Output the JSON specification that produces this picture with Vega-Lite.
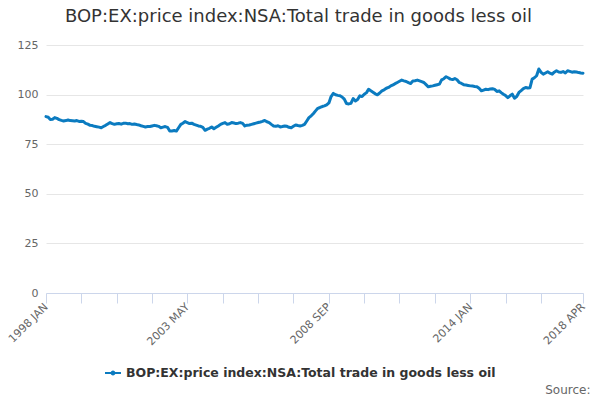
{
  "$schema": "https://vega.github.io/schema/vega-lite/v6.json",
  "width": 537,
  "height": 248,
  "autosize": "none",
  "padding": {"left": 46, "top": 45, "right": 17, "bottom": 107},
  "title": {
    "text": "BOP:EX:price index:NSA:Total trade in goods less oil",
    "fontSize": 18,
    "fontWeight": "normal",
    "color": "#333333",
    "anchor": "middle",
    "dx": -16,
    "offset": 13
  },
  "config": {
    "font": "DejaVu Sans",
    "view": {"stroke": null}
  },
  "data": {
    "values": [
      {"d": "1998-01-01", "v": 88.9}, {"d": "1998-02-01", "v": 88.6}, {"d": "1998-03-01", "v": 87.5}, {"d": "1998-04-01", "v": 87.6},
      {"d": "1998-05-01", "v": 88.4}, {"d": "1998-06-01", "v": 88.0}, {"d": "1998-07-01", "v": 87.4}, {"d": "1998-08-01", "v": 87.0},
      {"d": "1998-09-01", "v": 86.7}, {"d": "1998-10-01", "v": 86.9}, {"d": "1998-11-01", "v": 87.2}, {"d": "1998-12-01", "v": 86.9},
      {"d": "1999-01-01", "v": 86.8}, {"d": "1999-02-01", "v": 86.7}, {"d": "1999-03-01", "v": 86.9}, {"d": "1999-04-01", "v": 86.5},
      {"d": "1999-05-01", "v": 86.6}, {"d": "1999-06-01", "v": 86.4}, {"d": "1999-07-01", "v": 85.5}, {"d": "1999-08-01", "v": 85.1},
      {"d": "1999-09-01", "v": 84.5}, {"d": "1999-10-01", "v": 84.4}, {"d": "1999-11-01", "v": 84.0}, {"d": "1999-12-01", "v": 83.8},
      {"d": "2000-01-01", "v": 83.6}, {"d": "2000-02-01", "v": 83.3}, {"d": "2000-03-01", "v": 83.9}, {"d": "2000-04-01", "v": 84.5},
      {"d": "2000-05-01", "v": 85.2}, {"d": "2000-06-01", "v": 85.9}, {"d": "2000-07-01", "v": 85.4}, {"d": "2000-08-01", "v": 85.0},
      {"d": "2000-09-01", "v": 85.3}, {"d": "2000-10-01", "v": 85.4}, {"d": "2000-11-01", "v": 85.1}, {"d": "2000-12-01", "v": 85.5},
      {"d": "2001-01-01", "v": 85.6}, {"d": "2001-02-01", "v": 85.3}, {"d": "2001-03-01", "v": 85.4}, {"d": "2001-04-01", "v": 85.0},
      {"d": "2001-05-01", "v": 85.2}, {"d": "2001-06-01", "v": 84.9}, {"d": "2001-07-01", "v": 84.7}, {"d": "2001-08-01", "v": 84.3},
      {"d": "2001-09-01", "v": 84.0}, {"d": "2001-10-01", "v": 83.7}, {"d": "2001-11-01", "v": 83.9}, {"d": "2001-12-01", "v": 83.9},
      {"d": "2002-01-01", "v": 84.2}, {"d": "2002-02-01", "v": 84.5}, {"d": "2002-03-01", "v": 84.3}, {"d": "2002-04-01", "v": 84.0},
      {"d": "2002-05-01", "v": 83.3}, {"d": "2002-06-01", "v": 83.6}, {"d": "2002-07-01", "v": 83.9}, {"d": "2002-08-01", "v": 83.5},
      {"d": "2002-09-01", "v": 81.6}, {"d": "2002-10-01", "v": 81.7}, {"d": "2002-11-01", "v": 81.9}, {"d": "2002-12-01", "v": 81.6},
      {"d": "2003-01-01", "v": 83.3}, {"d": "2003-02-01", "v": 85.0}, {"d": "2003-03-01", "v": 85.6}, {"d": "2003-04-01", "v": 86.4},
      {"d": "2003-05-01", "v": 85.9}, {"d": "2003-06-01", "v": 85.4}, {"d": "2003-07-01", "v": 85.6}, {"d": "2003-08-01", "v": 85.0},
      {"d": "2003-09-01", "v": 84.6}, {"d": "2003-10-01", "v": 84.2}, {"d": "2003-11-01", "v": 84.0}, {"d": "2003-12-01", "v": 83.5},
      {"d": "2004-01-01", "v": 82.0}, {"d": "2004-02-01", "v": 82.6}, {"d": "2004-03-01", "v": 83.0}, {"d": "2004-04-01", "v": 83.7},
      {"d": "2004-05-01", "v": 82.8}, {"d": "2004-06-01", "v": 83.5}, {"d": "2004-07-01", "v": 84.2}, {"d": "2004-08-01", "v": 85.0},
      {"d": "2004-09-01", "v": 85.5}, {"d": "2004-10-01", "v": 85.9}, {"d": "2004-11-01", "v": 85.0}, {"d": "2004-12-01", "v": 85.3},
      {"d": "2005-01-01", "v": 85.9}, {"d": "2005-02-01", "v": 85.7}, {"d": "2005-03-01", "v": 85.4}, {"d": "2005-04-01", "v": 85.6},
      {"d": "2005-05-01", "v": 85.9}, {"d": "2005-06-01", "v": 85.5}, {"d": "2005-07-01", "v": 84.2}, {"d": "2005-08-01", "v": 84.6},
      {"d": "2005-09-01", "v": 84.7}, {"d": "2005-10-01", "v": 85.0}, {"d": "2005-11-01", "v": 85.3}, {"d": "2005-12-01", "v": 85.6},
      {"d": "2006-01-01", "v": 85.9}, {"d": "2006-02-01", "v": 86.2}, {"d": "2006-03-01", "v": 86.5}, {"d": "2006-04-01", "v": 87.0},
      {"d": "2006-05-01", "v": 86.3}, {"d": "2006-06-01", "v": 85.9}, {"d": "2006-07-01", "v": 85.0}, {"d": "2006-08-01", "v": 84.2},
      {"d": "2006-09-01", "v": 84.0}, {"d": "2006-10-01", "v": 84.3}, {"d": "2006-11-01", "v": 83.7}, {"d": "2006-12-01", "v": 83.9},
      {"d": "2007-01-01", "v": 84.2}, {"d": "2007-02-01", "v": 84.0}, {"d": "2007-03-01", "v": 83.5}, {"d": "2007-04-01", "v": 83.3},
      {"d": "2007-05-01", "v": 84.0}, {"d": "2007-06-01", "v": 84.7}, {"d": "2007-07-01", "v": 84.4}, {"d": "2007-08-01", "v": 84.2},
      {"d": "2007-09-01", "v": 84.5}, {"d": "2007-10-01", "v": 85.0}, {"d": "2007-11-01", "v": 86.7}, {"d": "2007-12-01", "v": 88.4},
      {"d": "2008-01-01", "v": 89.3}, {"d": "2008-02-01", "v": 90.5}, {"d": "2008-03-01", "v": 91.8}, {"d": "2008-04-01", "v": 93.1},
      {"d": "2008-05-01", "v": 93.5}, {"d": "2008-06-01", "v": 94.0}, {"d": "2008-07-01", "v": 94.3}, {"d": "2008-08-01", "v": 94.8},
      {"d": "2008-09-01", "v": 95.8}, {"d": "2008-10-01", "v": 99.0}, {"d": "2008-11-01", "v": 100.6}, {"d": "2008-12-01", "v": 99.9},
      {"d": "2009-01-01", "v": 99.6}, {"d": "2009-02-01", "v": 99.4}, {"d": "2009-03-01", "v": 98.8}, {"d": "2009-04-01", "v": 97.7},
      {"d": "2009-05-01", "v": 95.5}, {"d": "2009-06-01", "v": 95.3}, {"d": "2009-07-01", "v": 95.6}, {"d": "2009-08-01", "v": 98.0},
      {"d": "2009-09-01", "v": 96.8}, {"d": "2009-10-01", "v": 97.5}, {"d": "2009-11-01", "v": 99.4}, {"d": "2009-12-01", "v": 99.0},
      {"d": "2010-01-01", "v": 100.2}, {"d": "2010-02-01", "v": 101.0}, {"d": "2010-03-01", "v": 102.7}, {"d": "2010-04-01", "v": 101.9},
      {"d": "2010-05-01", "v": 101.2}, {"d": "2010-06-01", "v": 100.4}, {"d": "2010-07-01", "v": 99.9}, {"d": "2010-08-01", "v": 100.8},
      {"d": "2010-09-01", "v": 101.9}, {"d": "2010-10-01", "v": 102.4}, {"d": "2010-11-01", "v": 103.2}, {"d": "2010-12-01", "v": 103.6},
      {"d": "2011-01-01", "v": 104.4}, {"d": "2011-02-01", "v": 104.9}, {"d": "2011-03-01", "v": 105.5}, {"d": "2011-04-01", "v": 106.1},
      {"d": "2011-05-01", "v": 106.7}, {"d": "2011-06-01", "v": 107.3}, {"d": "2011-07-01", "v": 106.9}, {"d": "2011-08-01", "v": 106.6},
      {"d": "2011-09-01", "v": 106.0}, {"d": "2011-10-01", "v": 105.6}, {"d": "2011-11-01", "v": 106.9}, {"d": "2011-12-01", "v": 107.0},
      {"d": "2012-01-01", "v": 107.3}, {"d": "2012-02-01", "v": 106.9}, {"d": "2012-03-01", "v": 106.5}, {"d": "2012-04-01", "v": 106.1},
      {"d": "2012-05-01", "v": 105.0}, {"d": "2012-06-01", "v": 103.9}, {"d": "2012-07-01", "v": 104.2}, {"d": "2012-08-01", "v": 104.4},
      {"d": "2012-09-01", "v": 104.7}, {"d": "2012-10-01", "v": 105.0}, {"d": "2012-11-01", "v": 105.3}, {"d": "2012-12-01", "v": 107.4},
      {"d": "2013-01-01", "v": 108.0}, {"d": "2013-02-01", "v": 109.0}, {"d": "2013-03-01", "v": 108.5}, {"d": "2013-04-01", "v": 107.8},
      {"d": "2013-05-01", "v": 107.6}, {"d": "2013-06-01", "v": 108.1}, {"d": "2013-07-01", "v": 107.5}, {"d": "2013-08-01", "v": 106.1},
      {"d": "2013-09-01", "v": 105.6}, {"d": "2013-10-01", "v": 105.0}, {"d": "2013-11-01", "v": 104.8}, {"d": "2013-12-01", "v": 104.6},
      {"d": "2014-01-01", "v": 104.4}, {"d": "2014-02-01", "v": 104.3}, {"d": "2014-03-01", "v": 104.1}, {"d": "2014-04-01", "v": 104.0},
      {"d": "2014-05-01", "v": 103.2}, {"d": "2014-06-01", "v": 101.9}, {"d": "2014-07-01", "v": 102.3}, {"d": "2014-08-01", "v": 102.7},
      {"d": "2014-09-01", "v": 102.5}, {"d": "2014-10-01", "v": 102.8}, {"d": "2014-11-01", "v": 103.0}, {"d": "2014-12-01", "v": 102.6},
      {"d": "2015-01-01", "v": 101.6}, {"d": "2015-02-01", "v": 101.9}, {"d": "2015-03-01", "v": 101.0}, {"d": "2015-04-01", "v": 100.2},
      {"d": "2015-05-01", "v": 99.5}, {"d": "2015-06-01", "v": 98.5}, {"d": "2015-07-01", "v": 99.4}, {"d": "2015-08-01", "v": 100.2},
      {"d": "2015-09-01", "v": 98.2}, {"d": "2015-10-01", "v": 99.0}, {"d": "2015-11-01", "v": 101.1}, {"d": "2015-12-01", "v": 102.0},
      {"d": "2016-01-01", "v": 103.0}, {"d": "2016-02-01", "v": 103.6}, {"d": "2016-03-01", "v": 103.3}, {"d": "2016-04-01", "v": 103.5},
      {"d": "2016-05-01", "v": 107.8}, {"d": "2016-06-01", "v": 108.5}, {"d": "2016-07-01", "v": 109.5}, {"d": "2016-08-01", "v": 112.9},
      {"d": "2016-09-01", "v": 111.2}, {"d": "2016-10-01", "v": 110.3}, {"d": "2016-11-01", "v": 110.9}, {"d": "2016-12-01", "v": 111.5},
      {"d": "2017-01-01", "v": 110.8}, {"d": "2017-02-01", "v": 110.3}, {"d": "2017-03-01", "v": 111.3}, {"d": "2017-04-01", "v": 112.0},
      {"d": "2017-05-01", "v": 111.4}, {"d": "2017-06-01", "v": 111.2}, {"d": "2017-07-01", "v": 111.6}, {"d": "2017-08-01", "v": 110.9},
      {"d": "2017-09-01", "v": 112.0}, {"d": "2017-10-01", "v": 111.7}, {"d": "2017-11-01", "v": 111.3}, {"d": "2017-12-01", "v": 111.5},
      {"d": "2018-01-01", "v": 111.4}, {"d": "2018-02-01", "v": 111.1}, {"d": "2018-03-01", "v": 110.9}, {"d": "2018-04-01", "v": 110.8}
    ]
  },
  "mark": {"type": "line", "strokeWidth": 3, "strokeJoin": "round", "strokeCap": "round"},
  "encoding": {
    "x": {
      "field": "d",
      "type": "temporal",
      "scale": {
        "type": "utc",
        "nice": false,
        "domain": [
          {"year": 1998, "month": 1, "date": 1, "utc": true},
          {"year": 2018, "month": 4, "date": 1, "utc": true}
        ]
      },
      "axis": {
        "title": "Source:",
        "titleAnchor": "end",
        "titleAlign": "right",
        "titleBaseline": "alphabetic",
        "titleX": 544,
        "titleY": 100,
        "titleFontSize": 12,
        "titleFontWeight": "normal",
        "titleColor": "#666666",
        "values": [
          {"year": 1998, "month": 1, "date": 1, "utc": true},
          {"year": 1999, "month": 5, "date": 1, "utc": true},
          {"year": 2000, "month": 9, "date": 1, "utc": true},
          {"year": 2002, "month": 1, "date": 1, "utc": true},
          {"year": 2003, "month": 5, "date": 1, "utc": true},
          {"year": 2004, "month": 9, "date": 1, "utc": true},
          {"year": 2006, "month": 1, "date": 1, "utc": true},
          {"year": 2007, "month": 5, "date": 1, "utc": true},
          {"year": 2008, "month": 9, "date": 1, "utc": true},
          {"year": 2010, "month": 1, "date": 1, "utc": true},
          {"year": 2011, "month": 5, "date": 1, "utc": true},
          {"year": 2012, "month": 9, "date": 1, "utc": true},
          {"year": 2014, "month": 1, "date": 1, "utc": true},
          {"year": 2015, "month": 5, "date": 1, "utc": true},
          {"year": 2016, "month": 9, "date": 1, "utc": true},
          {"year": 2018, "month": 4, "date": 1, "utc": true}
        ],
        "labelExpr": "(utcFormat(datum.value, '%Y-%m') == '1998-01' || utcFormat(datum.value, '%Y-%m') == '2003-05' || utcFormat(datum.value, '%Y-%m') == '2008-09' || utcFormat(datum.value, '%Y-%m') == '2014-01' || utcFormat(datum.value, '%Y-%m') == '2018-04') ? upper(utcFormat(datum.value, '%Y %b')) : ''",
        "labelAngle": -45,
        "labelAlign": "right",
        "labelBaseline": "middle",
        "labelFontSize": 11,
        "labelColor": "#666666",
        "labelOverlap": false,
        "labelFlush": false,
        "labelBound": false,
        "labelPadding": 2,
        "domainColor": "#ccd6eb",
        "tickColor": "#ccd6eb",
        "tickSize": 10,
        "grid": false
      }
    },
    "y": {
      "field": "v",
      "type": "quantitative",
      "scale": {"domain": [0, 125], "nice": false},
      "axis": {
        "title": null,
        "values": [0, 25, 50, 75, 100, 125],
        "labelFontSize": 11,
        "labelColor": "#666666",
        "labelPadding": 8,
        "domain": false,
        "ticks": false,
        "gridColor": "#e6e6e6"
      }
    },
    "color": {
      "datum": "BOP:EX:price index:NSA:Total trade in goods less oil",
      "type": "nominal",
      "scale": {"range": ["#0b7bc0"]},
      "legend": {
        "title": null,
        "orient": "none",
        "legendX": 59,
        "legendY": 320,
        "labelFontSize": 12.5,
        "labelFontWeight": "bold",
        "labelColor": "#333333",
        "labelLimit": 0,
        "labelOffset": 5,
        "symbolType": "M-1,-0.125L1,-0.125L1,0.125L-1,0.125Z M-0.3,0A0.3,0.3,0,1,1,0.3,0A0.3,0.3,0,1,1,-0.3,0Z",
        "symbolSize": 256,
        "encode": {
          "symbols": {
            "update": {
              "fill": {"value": "#0b7bc0"},
              "strokeWidth": {"value": 0}
            }
          }
        }
      }
    }
  }
}
